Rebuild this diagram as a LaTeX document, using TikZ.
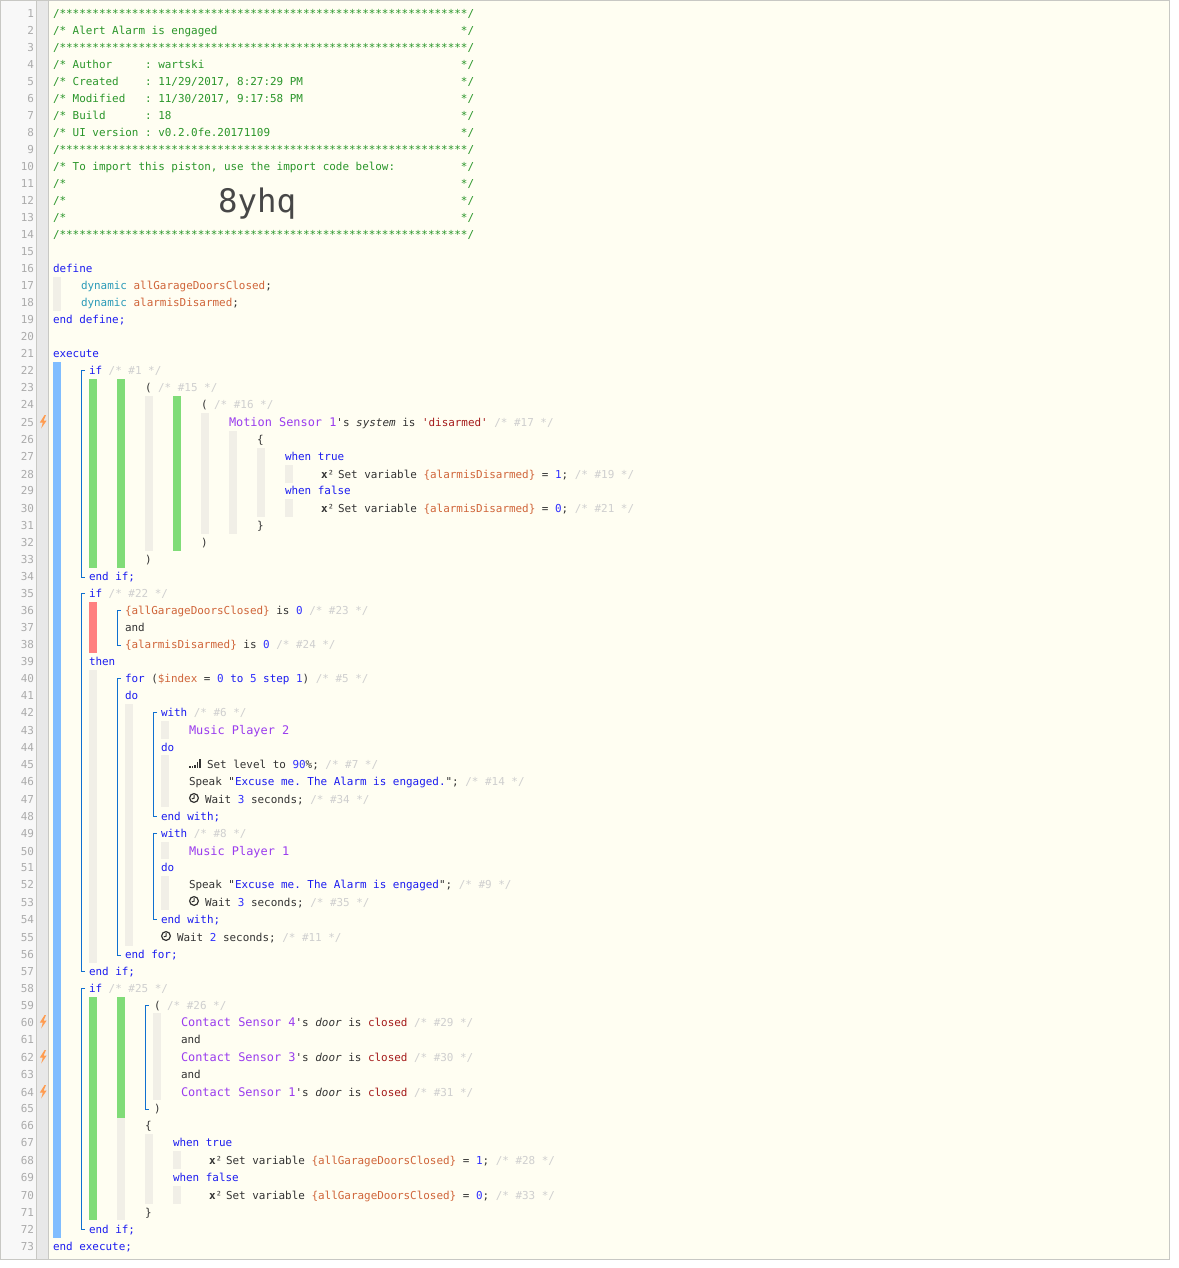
\documentclass[tikz,border=0pt]{standalone}
\usepackage{fontspec}
\newfontfamily\code{DejaVu Sans Mono}
\frenchspacing
\definecolor{kw}{HTML}{1C1CF0}
\definecolor{nm}{HTML}{3030FF}
\definecolor{vr}{HTML}{D0653A}
\definecolor{dv}{HTML}{9A3CEE}
\definecolor{st}{HTML}{A51C1C}
\definecolor{cm}{HTML}{CFCFCF}
\definecolor{hd}{HTML}{2A962A}
\definecolor{dy}{HTML}{2A9AB8}
\definecolor{tx}{HTML}{333333}
\definecolor{lnum}{HTML}{ABABAB}
\definecolor{bgc}{HTML}{FFFEF2}
\definecolor{barg}{HTML}{F1EFE7}
\definecolor{barb}{HTML}{80BDFF}
\definecolor{bargr}{HTML}{80DC78}
\definecolor{barr}{HTML}{FF8080}
\definecolor{brk}{HTML}{0F70D0}
\definecolor{bdr}{HTML}{C8C8C4}
\definecolor{gut}{HTML}{E8E8E8}
\definecolor{nbg}{HTML}{F8F8F8}
\definecolor{bolt}{HTML}{FF9C50}
\newcommand{\K}[1]{\textcolor{kw}{#1}}
\newcommand{\N}[1]{\textcolor{nm}{#1}}
\newcommand{\V}[1]{\textcolor{vr}{#1}}
\newcommand{\D}[1]{{\fontsize{11.9pt}{13pt}\selectfont\textcolor{dv}{#1}}}
\newcommand{\Sx}[1]{\textcolor{st}{#1}}
\newcommand{\C}[1]{\textcolor{cm}{#1}}
\newcommand{\Y}[1]{\textcolor{dy}{#1}}
\newlength{\cw}\setlength{\cw}{6.58pt}
\newcommand{\tenstars}{**********}
\newcommand{\stars}{/\tenstars\tenstars\tenstars\tenstars\tenstars\tenstars**/}
\newcommand{\cl}[3]{\edef\tmpy{\csname ly#1\endcsname}\node[codetxt] (code#1x#2) at (#2,\tmpy+4) {#3};}
\newcommand{\hdr}[2]{\edef\tmpy{\csname ly#1\endcsname}\node[codetxt,text=hd] (code#1) at (53,\tmpy+4) {\makebox[62\cw][l]{#2}*/};}
\newcommand{\hst}[1]{\edef\tmpy{\csname ly#1\endcsname}\node[codetxt,text=hd] (code#1) at (53,\tmpy+4) {\stars};}
\newcommand{\cbar}[4]{\fill[#4] (#1,#2) rectangle ++(8,#3-#2);}
\newcommand{\brkt}[3]{\draw[brk,line width=1pt] (#1+3.7,#2) -- (#1,#2) -- (#1,#3) -- (#1+3.7,#3);}
\newcommand{\clockic}[2]{\edef\tmpy{\csname ly#1\endcsname}\draw[tx,line width=1.2pt] (#2,\tmpy-1) circle (4.4);\draw[tx,line width=1pt] (#2+.2,\tmpy-3.8) -- (#2+.2,\tmpy-.8) -- (#2-2.2,\tmpy-.2);}
\newcommand{\sigic}[2]{\edef\tmpy{\csname ly#1\endcsname}\foreach \i/\h in {0/1.5,1/1.5,2/3,3/5.2}{\fill[tx] (#2+\i*2.5,\tmpy+3.6) rectangle ++(1.5,-\h);}\fill[tx] (#2+10,\tmpy+3.6) rectangle ++(2,-8.7);}
\newcommand{\boltic}[1]{\edef\tmpy{\csname ly#1\endcsname}\fill[bolt] (44.6,\tmpy-7) -- (39.8,\tmpy+.6) -- (42.8,\tmpy+.6) -- (41.2,\tmpy+6.4) -- (46.6,\tmpy-1.4) -- (43.6,\tmpy-1.4) -- (46,\tmpy-7) -- cycle;}
\newcommand{\xsq}{\makebox[17pt][l]{\textbf{x}\raisebox{0pt}{²}}}
\tikzset{codetxt/.style={anchor=base west,inner sep=0pt,outer sep=0pt,font=\code\fontsize{10.93pt}{13pt}\selectfont,text=tx},
numtxt/.style={anchor=base east,inner sep=0pt,outer sep=0pt,font=\code\fontsize{10.93pt}{13pt}\selectfont,text=lnum}}
\begin{document}
\begin{tikzpicture}[x=1pt,y=-1pt]
\useasboundingbox (0,0) rectangle (1178,1268);
\fill[white] (0,0) rectangle (1178,1268);
\fill[nbg] (0,0) rectangle (37,1259.5);
\fill[gut] (37,0) rectangle (48,1259.5);
\fill[bgc] (48,0) rectangle (1169.5,1259.5);
\draw[bdr,line width=1pt] (36.5,0.5) -- (36.5,1259);
\draw[bdr,line width=1pt] (48.5,0.5) -- (48.5,1259);
\draw[bdr,line width=1pt] (0.5,0.5) rectangle (1169.5,1259.5);
\foreach \y [count=\n] in {13.5,30.5,47.5,64.5,81.5,98.5,115.5,132.5,149.5,166.5,183,200.5,217,234,251,268,285,302,319,336,353,370,387,404,422,439,456,474,490,508,525,542,559,576,593,610,627,644,661,678,695,712,730,747,764,781,799,816,833,851,867,884,902,919,937,954,971,988,1005,1022,1039,1057,1074,1092,1108,1125,1142,1160,1177,1195,1212,1229,1246}{
 \expandafter\xdef\csname ly\n\endcsname{\y}
 \node[numtxt] (num\n) at (34,\y+4) {\n};
}
% bars
\cbar{53}{277}{310.5}{barg}
\cbar{53}{362}{1238}{barb}
\cbar{89}{379}{568}{bargr}
\cbar{117}{379}{568}{bargr}
\cbar{145}{396}{551}{barg}
\cbar{173}{396}{551}{bargr}
\cbar{201}{413}{534}{barg}
\cbar{229}{431}{534}{barg}
\cbar{257}{448}{517}{barg}
\cbar{285}{465}{483}{barg}
\cbar{285}{499}{517}{barg}
\cbar{89}{602}{653}{barr}
\cbar{89}{670}{963}{barg}
\cbar{125}{704}{946}{barg}
\cbar{161}{721}{739}{barg}
\cbar{161}{755}{807}{barg}
\cbar{161}{842}{859}{barg}
\cbar{161}{876}{910}{barg}
\cbar{89}{996.5}{1220}{bargr}
\cbar{117}{996.5}{1117.5}{bargr}
\cbar{117}{1117.5}{1220}{barg}
\cbar{153}{1013}{1100}{barg}
\cbar{145}{1134}{1204}{barg}
\cbar{173}{1151}{1169}{barg}
\cbar{173}{1186}{1204}{barg}
% brackets
\brkt{81.5}{370}{577.5}
\brkt{81.5}{593}{971}
\brkt{81.5}{988}{1229.5}
\brkt{117.5}{610.5}{645}
\brkt{117.5}{678}{955}
\brkt{153.5}{712.5}{816}
\brkt{153.5}{833}{919}
\brkt{145.5}{1005}{1109.5}
% header
\hst{1}
\hdr{2}{/* Alert Alarm is engaged}
\hst{3}
\hdr{4}{/* Author~~~~~: wartski}
\hdr{5}{/* Created~~~~: 11/29/2017, 8:27:29 PM}
\hdr{6}{/* Modified~~~: 11/30/2017, 9:17:58 PM}
\hdr{7}{/* Build~~~~~~: 18}
\hdr{8}{/* UI version : v0.2.0fe.20171109}
\hst{9}
\hdr{10}{/* To import this piston, use the import code below:}
\hdr{11}{/*}
\hdr{12}{/*}
\hdr{13}{/*}
\hst{14}
\node[anchor=base west,inner sep=0pt,text=black!72,font=\code\fontsize{32.4pt}{36pt}\selectfont] (pcode) at (218,212) {8yhq};
% define
\cl{16}{53}{\K{define}}
\cl{17}{81}{\Y{dynamic} \V{allGarageDoorsClosed};}
\cl{18}{81}{\Y{dynamic} \V{alarmisDisarmed};}
\cl{19}{53}{\K{end define;}}
\cl{21}{53}{\K{execute}}
\cl{22}{89}{\K{if} \C{/* \#1 */}}
\cl{23}{145}{( \C{/* \#15 */}}
\cl{24}{201}{( \C{/* \#16 */}}
\boltic{25}
\cl{25}{229}{\D{Motion Sensor 1}'s \textit{system} is \Sx{'disarmed'} \C{/* \#17 */}}
\cl{26}{257}{\{}
\cl{27}{285}{\K{when true}}
\cl{28}{321}{\xsq Set variable \V{\{alarmisDisarmed\}} = \N{1}; \C{/* \#19 */}}
\cl{29}{285}{\K{when false}}
\cl{30}{321}{\xsq Set variable \V{\{alarmisDisarmed\}} = \N{0}; \C{/* \#21 */}}
\cl{31}{257}{\}}
\cl{32}{201}{)}
\cl{33}{145}{)}
\cl{34}{89}{\K{end if;}}
\cl{35}{89}{\K{if} \C{/* \#22 */}}
\cl{36}{125}{\V{\{allGarageDoorsClosed\}} is \N{0} \C{/* \#23 */}}
\cl{37}{125}{and}
\cl{38}{125}{\V{\{alarmisDisarmed\}} is \N{0} \C{/* \#24 */}}
\cl{39}{89}{\K{then}}
\cl{40}{125}{\K{for} (\V{\$index} = \N{0} \K{to} \N{5} \K{step} \N{1}) \C{/* \#5 */}}
\cl{41}{125}{\K{do}}
\cl{42}{161}{\K{with} \C{/* \#6 */}}
\cl{43}{189}{\D{Music Player 2}}
\cl{44}{161}{\K{do}}
\sigic{45}{189}
\cl{45}{207}{Set level to \N{90}\%; \C{/* \#7 */}}
\cl{46}{189}{Speak "\K{Excuse me. The Alarm is engaged.}"; \C{/* \#14 */}}
\clockic{47}{194}
\cl{47}{205}{Wait \N{3} seconds; \C{/* \#34 */}}
\cl{48}{161}{\K{end with;}}
\cl{49}{161}{\K{with} \C{/* \#8 */}}
\cl{50}{189}{\D{Music Player 1}}
\cl{51}{161}{\K{do}}
\cl{52}{189}{Speak "\K{Excuse me. The Alarm is engaged}"; \C{/* \#9 */}}
\clockic{53}{194}
\cl{53}{205}{Wait \N{3} seconds; \C{/* \#35 */}}
\cl{54}{161}{\K{end with;}}
\clockic{55}{166}
\cl{55}{177}{Wait \N{2} seconds; \C{/* \#11 */}}
\cl{56}{125}{\K{end for;}}
\cl{57}{89}{\K{end if;}}
\cl{58}{89}{\K{if} \C{/* \#25 */}}
\cl{59}{154}{( \C{/* \#26 */}}
\boltic{60}
\cl{60}{181}{\D{Contact Sensor 4}'s \textit{door} is \Sx{closed} \C{/* \#29 */}}
\cl{61}{181}{and}
\boltic{62}
\cl{62}{181}{\D{Contact Sensor 3}'s \textit{door} is \Sx{closed} \C{/* \#30 */}}
\cl{63}{181}{and}
\boltic{64}
\cl{64}{181}{\D{Contact Sensor 1}'s \textit{door} is \Sx{closed} \C{/* \#31 */}}
\cl{65}{154}{)}
\cl{66}{145}{\{}
\cl{67}{173}{\K{when true}}
\cl{68}{209}{\xsq Set variable \V{\{allGarageDoorsClosed\}} = \N{1}; \C{/* \#28 */}}
\cl{69}{173}{\K{when false}}
\cl{70}{209}{\xsq Set variable \V{\{allGarageDoorsClosed\}} = \N{0}; \C{/* \#33 */}}
\cl{71}{145}{\}}
\cl{72}{89}{\K{end if;}}
\cl{73}{53}{\K{end execute;}}
\end{tikzpicture}
\end{document}
